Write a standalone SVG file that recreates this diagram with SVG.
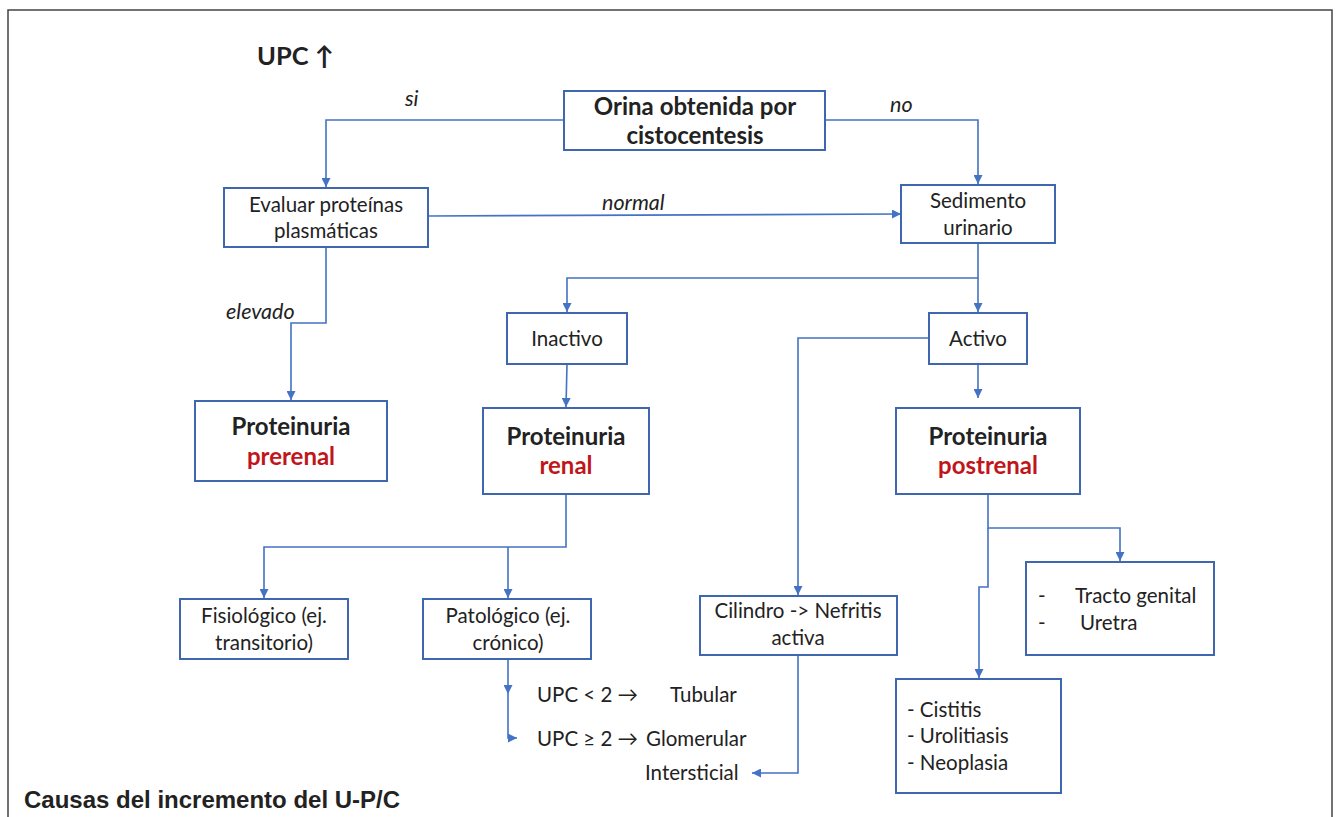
<svg xmlns="http://www.w3.org/2000/svg" width="1340" height="817" viewBox="0 0 1340 817">
<defs>
<marker id="ah" viewBox="0 0 10 10" refX="10" refY="5" markerWidth="9" markerHeight="9" markerUnits="userSpaceOnUse" orient="auto">
<path d="M0,0 L10,5 L0,10 z" fill="#4472C4"/>
</marker>
<style>
.box{fill:#fff;stroke:#3F67B0;stroke-width:2}
.ln{fill:none;stroke:#4472C4;stroke-width:1.6}
.t{font-family:Lato,"Liberation Sans",sans-serif;font-size:20.5px;fill:#222}
.c{text-anchor:middle}
.b{font-weight:bold;font-size:24px}
.r{fill:#C0161B}
.i{font-style:italic;font-size:21.5px}
</style>
</defs>
<rect width="1340" height="817" fill="#fff"/>
<rect x="8" y="10" width="1324" height="830" fill="none" stroke="#444" stroke-width="1.5"/>
<text class="t" x="257" y="65" style="font-weight:bold;font-size:25.5px">UPC ↑</text>
<text x="24" y="808" style="font-family:'Liberation Sans',Arial,sans-serif;font-weight:bold;font-size:24px;fill:#222">Causas del incremento del U-P/C</text>

<g id="connectors">
<path class="ln" d="M564,120 H326 V187" marker-end="url(#ah)"/>
<path class="ln" d="M825,120 H978 V184" marker-end="url(#ah)"/>
<path class="ln" d="M428,216 L901,214" marker-end="url(#ah)"/>
<path class="ln" d="M326,247 V323 H291 V400" marker-end="url(#ah)"/>
<path class="ln" d="M978,243 V278 H567 V312" marker-end="url(#ah)"/>
<path class="ln" d="M978,278 V312" marker-end="url(#ah)"/>
<path class="ln" d="M567,364 L566,407" marker-end="url(#ah)"/>
<path class="ln" d="M978,364 V398" marker-end="url(#ah)"/>
<path class="ln" d="M929,338 H798 V595" marker-end="url(#ah)"/>
<path class="ln" d="M798,655 V773 H752" marker-end="url(#ah)"/>
<path class="ln" d="M566,494 V547 H264 V598" marker-end="url(#ah)"/>
<path class="ln" d="M508,547 V598" marker-end="url(#ah)"/>
<path class="ln" d="M508,659 V694" marker-end="url(#ah)"/>
<path class="ln" d="M508,694 V738 H517" marker-end="url(#ah)"/>
<path class="ln" d="M988,494 V528 H1120 V561" marker-end="url(#ah)"/>
<path class="ln" d="M988,528 V587 H979 V678" marker-end="url(#ah)"/>
<text class="t i" x="405" y="106">si</text>
<text class="t i" x="890" y="112">no</text>
<text class="t i" x="602" y="210">normal</text>
<text class="t i" x="226" y="319">elevado</text>
</g>

<g id="orina">
<rect class="box" x="564" y="91" width="261" height="59"/>
<text class="t c b" x="695" y="115">Orina obtenida por</text>
<text class="t c b" x="695" y="144">cistocentesis</text>
</g>
<g id="evaluar">
<rect class="box" x="224" y="188" width="204" height="59"/>
<text class="t c" x="326" y="212">Evaluar proteínas</text>
<text class="t c" x="326" y="238">plasmáticas</text>
</g>
<g id="sedimento">
<rect class="box" x="901" y="185" width="154" height="58"/>
<text class="t c" x="978" y="208">Sedimento</text>
<text class="t c" x="978" y="235">urinario</text>
</g>
<g id="prerenal">
<rect class="box" x="195" y="401" width="192" height="80"/>
<text class="t c b" x="291" y="435">Proteinuria</text>
<text class="t c b r" x="291" y="465">prerenal</text>
</g>
<g id="inactivo">
<rect class="box" x="507" y="313" width="120" height="51"/>
<text class="t c" x="567" y="346">Inactivo</text>
</g>
<g id="activo">
<rect class="box" x="929" y="313" width="98" height="51"/>
<text class="t c" x="978" y="346">Activo</text>
</g>
<g id="renal">
<rect class="box" x="483" y="408" width="166" height="86"/>
<text class="t c b" x="566" y="445">Proteinuria</text>
<text class="t c b r" x="566" y="474">renal</text>
</g>
<g id="postrenal">
<rect class="box" x="896" y="408" width="184" height="86"/>
<text class="t c b" x="988" y="445">Proteinuria</text>
<text class="t c b r" x="988" y="474">postrenal</text>
</g>
<g id="fisiologico">
<rect class="box" x="180" y="599" width="168" height="60"/>
<text class="t c" x="264" y="623">Fisiológico (ej.</text>
<text class="t c" x="264" y="650">transitorio)</text>
</g>
<g id="patologico">
<rect class="box" x="423" y="599" width="168" height="60"/>
<text class="t c" x="508" y="623">Patológico (ej.</text>
<text class="t c" x="508" y="650">crónico)</text>
</g>
<g id="upc-text">
<text class="t" x="537" y="702">UPC &lt; 2 →</text>
<text class="t" x="670" y="702">Tubular</text>
<text class="t" x="537" y="746">UPC ≥ 2 →</text>
<text class="t" x="646" y="746">Glomerular</text>
<text class="t" x="645" y="780">Intersticial</text>
</g>
<g id="cilindro">
<rect class="box" x="700" y="596" width="197" height="59"/>
<text class="t c" x="798" y="618">Cilindro -&gt; Nefritis</text>
<text class="t c" x="798" y="645">activa</text>
</g>
<g id="tracto">
<rect class="box" x="1026" y="562" width="188" height="93"/>
<text class="t" x="1038" y="603">-</text>
<text class="t" x="1075" y="603">Tracto genital</text>
<text class="t" x="1038" y="630">-</text>
<text class="t" x="1080" y="630">Uretra</text>
</g>
<g id="cistitis">
<rect class="box" x="896" y="679" width="165" height="114"/>
<text class="t" x="907" y="717">- Cistitis</text>
<text class="t" x="907" y="743">- Urolitiasis</text>
<text class="t" x="907" y="770">- Neoplasia</text>
</g>
</svg>
